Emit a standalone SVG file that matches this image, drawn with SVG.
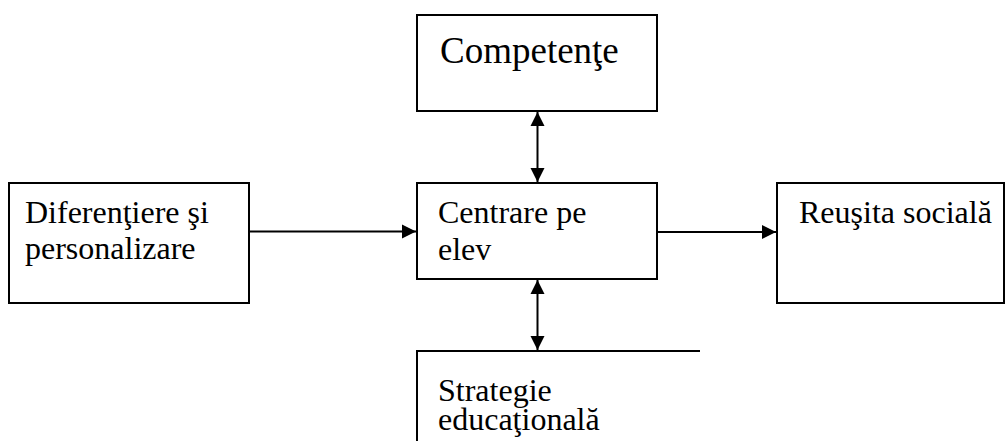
<svg xmlns="http://www.w3.org/2000/svg" width="1006" height="441" viewBox="0 0 1006 441">
  <style>
    .box { fill: #ffffff; stroke: #000000; stroke-width: 2; }
    .edge { fill: none; stroke: #000000; stroke-width: 2; }
    .lbl { font-family: 'Liberation Serif', 'Times New Roman', serif; font-size: 32px; fill: #000000; }
    .big { font-size: 37px; }
  </style>
  <defs>
    <marker id="arrowEnd" markerUnits="userSpaceOnUse" markerWidth="16" markerHeight="16" refX="15" refY="8" orient="auto">
      <path d="M1,1 L15,8 L1,15 Z" fill="#000000"/>
    </marker>
    <marker id="arrowStart" markerUnits="userSpaceOnUse" markerWidth="16" markerHeight="16" refX="1" refY="8" orient="auto">
      <path d="M15,1 L1,8 L15,15 Z" fill="#000000"/>
    </marker>
  </defs>
  <rect width="1006" height="441" fill="#ffffff"/>

  <g id="node-competente">
    <rect class="box" x="417" y="15" width="240" height="96"/>
    <text class="lbl big" x="440" y="63">Competenţe</text>
  </g>

  <g id="node-diferentiere">
    <rect class="box" x="9" y="183" width="240" height="120"/>
    <text class="lbl" x="25" y="223">Diferenţiere şi</text>
    <text class="lbl" x="25" y="259">personalizare</text>
  </g>

  <g id="node-centrare">
    <rect class="box" x="417" y="183" width="240" height="96"/>
    <text class="lbl" x="438" y="223">Centrare pe</text>
    <text class="lbl" x="438" y="260">elev</text>
  </g>

  <g id="node-reusita">
    <rect class="box" x="777" y="183" width="227" height="120"/>
    <text class="lbl" x="799" y="223">Reuşita socială</text>
  </g>

  <g id="node-strategie">
    <!-- box runs past the bottom edge; only its left side and top are drawn -->
    <path class="edge" d="M417,442 L417,351 L700,351"/>
    <text class="lbl" x="438" y="401">Strategie</text>
    <text class="lbl" x="438" y="430">educaţională</text>
  </g>

  <g id="connectors">
    <line class="edge" x1="249" y1="231.5" x2="416" y2="231.5" marker-end="url(#arrowEnd)"/>
    <line class="edge" x1="657" y1="232" x2="776" y2="232" marker-end="url(#arrowEnd)"/>
    <line class="edge" x1="537.5" y1="112" x2="537.5" y2="182" marker-start="url(#arrowStart)" marker-end="url(#arrowEnd)"/>
    <line class="edge" x1="537.5" y1="280" x2="537.5" y2="350" marker-start="url(#arrowStart)" marker-end="url(#arrowEnd)"/>
  </g>
</svg>
